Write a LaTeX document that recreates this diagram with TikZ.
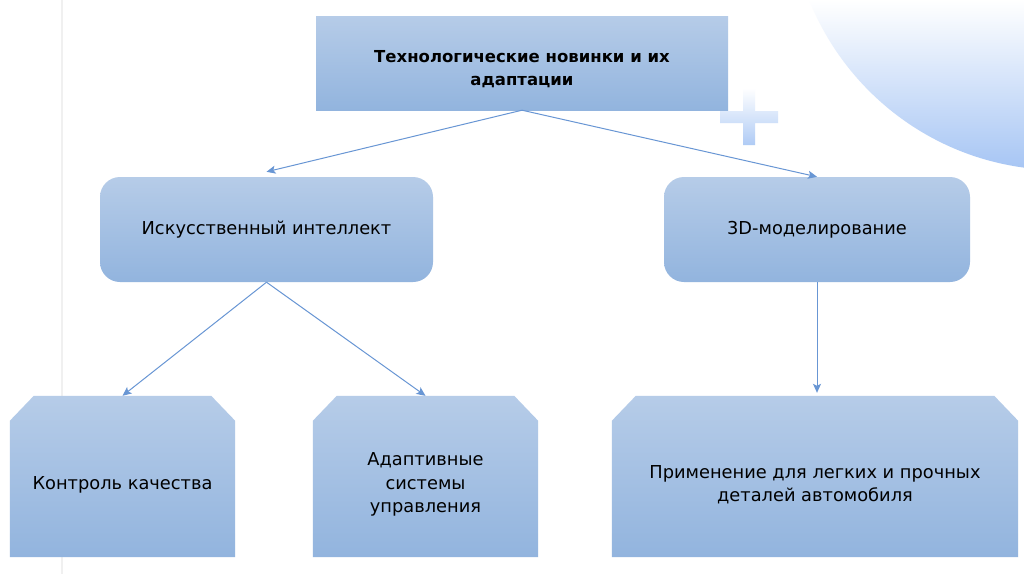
\documentclass[tikz,border=0pt]{standalone}
\usepackage{fontspec}
\setmainfont{DejaVu Sans}
\usetikzlibrary{arrows.meta,backgrounds}
\definecolor{boxtop}{RGB}{182,204,232}
\definecolor{boxbot}{RGB}{146,180,222}
\definecolor{arrowblue}{RGB}{104,150,212}
\definecolor{decoblue}{RGB}{166,197,244}
\begin{document}
\begin{tikzpicture}[x=1pt,y=-1pt,font=\fontsize{17.8}{23.5}\selectfont,
	box/.style={top color=boxtop,bottom color=boxbot,inner sep=0pt,align=center},
	headbox/.style={box,rectangle,minimum width=412pt,minimum height=94pt,
		label={[align=center,yshift=-6pt,font=\fontsize{16.5}{23.5}\selectfont\bfseries]center:#1}},
	midbox/.style={box,rounded corners=20pt,minimum height=105pt},
	lowbox/.style={rectangle,inner sep=0pt,minimum height=161pt,
		label={[align=center,yshift=-8pt]center:#1}},
	link/.style={-{Stealth[length=9pt,width=8pt,inset=2pt]},draw=arrowblue,line width=1pt}]
	\useasboundingbox (0,0) rectangle (1024,574);
	% background decoration
	\begin{scope}[on background layer]
		\fill[white] (0,0) rectangle (1024,574);
		\draw[black!6,line width=1.5pt] (62,0) -- (62,574);
		\begin{scope}
			\clip (1060,-100) circle (270);
			\shade[top color=white,bottom color=decoblue] (780,0) rectangle (1024,170);
		\end{scope}
		\shade[top color=white,bottom color=decoblue!90] (743,88) rectangle (755,145) (720,111) rectangle (778,123);
	\end{scope}
	% boxes
	\node[headbox={Технологические новинки и их\\адаптации}] (head) at (522,63) {};
	\node[midbox,minimum width=333pt] (ai) at (266.5,229.5) {Искусственный интеллект};
	\node[midbox,minimum width=306pt] (model) at (817,229.5) {3D-моделирование};
	\node[lowbox={Контроль качества},minimum width=225pt] (qc) at (122.5,476.5) {};
	\node[lowbox={Адаптивные\\системы\\управления},minimum width=225pt] (acs) at (425.5,476.5) {};
	\node[lowbox={Применение для легких и прочных\\деталей автомобиля},minimum width=406pt] (parts) at (815,476.5) {};
	% snipped corners
	\begin{scope}[on background layer]
		\foreach \n in {qc,acs,parts}
			\shade[top color=boxtop,bottom color=boxbot] (\n.south west) -- ([yshift=-25pt]\n.north west)
				-- ([xshift=24pt]\n.north west) -- ([xshift=-24pt]\n.north east)
				-- ([yshift=-25pt]\n.north east) -- (\n.south east) -- cycle;
	\end{scope}
	% links
	\draw[link] (head.south) -- ([yshift=5pt]ai.north);
	\draw[link] (head.south) -- (model.north);
	\draw[link] (ai.south) -- (qc.north);
	\draw[link] (ai.south) -- (acs.north);
	\draw[link,shorten >=3pt] (model.south) -- (model.south |- parts.north);
\end{tikzpicture}
\end{document}
